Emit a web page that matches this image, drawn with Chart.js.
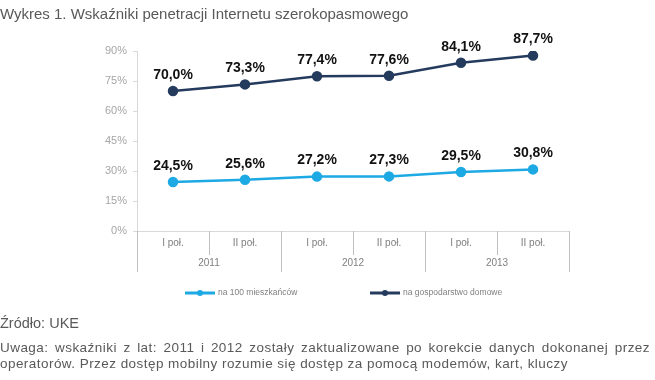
<!DOCTYPE html>
<html>
<head>
<meta charset="utf-8">
<script src="https://cdn.jsdelivr.net/npm/chart.js@4/dist/chart.umd.min.js"></script>
<style>
    body { margin: 0; background: #fff; font-family: "Liberation Sans", Arial, sans-serif; }
    #wrap { position: relative; width: 655px; height: 380px; overflow: hidden; }
    #chart { position: absolute; left: 0; top: 0; }
    .title { position: absolute; left: 0; top: 5px; font-size: 15px; color: #595959; white-space: nowrap; }
    .source { position: absolute; left: 0; top: 315px; font-size: 14.5px; color: #595959; }
    .note { position: absolute; left: 0; top: 340px; width: 650px; font-size: 13.5px; letter-spacing: 0.45px; line-height: 16px; color: #595959; text-align: justify; }
</style>
</head>
<body>
<div id="wrap">
    <canvas id="chart" width="655" height="380"></canvas>
    <div class="title">Wykres 1. Wskaźniki penetracji Internetu szerokopasmowego</div>
    <div class="source">Źródło: UKE</div>
    <div class="note">Uwaga: wskaźniki z lat: 2011 i 2012 zostały zaktualizowane po korekcie danych dokonanej przez operatorów. Przez dostęp mobilny rozumie się dostęp za pomocą modemów, kart, kluczy</div>
</div>
<script>
// Data
const halves = ['I poł.', 'II poł.', 'I poł.', 'II poł.', 'I poł.', 'II poł.'];
const years = ['2011', '2012', '2013'];
const perInhabitants = [24.5, 25.6, 27.2, 27.3, 29.5, 30.8];
const perHousehold = [70.0, 73.3, 77.4, 77.6, 84.1, 87.7];
const yTicks = [0, 15, 30, 45, 60, 75, 90];

const seriesNames = ['na 100 mieszkańców', 'na gospodarstwo domowe'];
const lightBlue = '#1DA9E3';
const darkBlue = '#243B5E';

// Value labels above each point
const valueLabels = {
    id: 'valueLabels',
    afterDatasetsDraw(chart) {
        const ctx = chart.ctx;
        ctx.save();
        ctx.font = 'bold 14px "Liberation Sans", Arial, sans-serif';
        ctx.fillStyle = '#111';
        ctx.textAlign = 'center';
        ctx.textBaseline = 'middle';
        chart.data.datasets.forEach((ds, i) => {
            chart.getDatasetMeta(i).data.forEach((pt, j) => {
                ctx.fillText(ds.data[j].toFixed(1).replace('.', ',') + '%', pt.x, pt.y - 16);
            });
        });
        ctx.restore();
    }
};

// Two-level category axis, zero line and legend
const axisAndLegend = {
    id: 'axisAndLegend',
    afterDraw(chart) {
        const ctx = chart.ctx;
        const area = chart.chartArea;
        const x = chart.scales.x;
        const y0 = chart.scales.y.getPixelForValue(0);
        const step = x.getPixelForValue(1) - x.getPixelForValue(0);
        ctx.save();
        ctx.strokeStyle = '#d9d9d9';
        ctx.lineWidth = 1;
        ctx.beginPath();
        ctx.moveTo(area.left - 4, Math.round(y0) + 0.5);
        ctx.lineTo(area.right, Math.round(y0) + 0.5);
        ctx.stroke();

        ctx.strokeStyle = '#bfbfbf';
        for (let i = 0; i <= halves.length; i++) {
            const px = Math.round(x.getPixelForValue(0) - step / 2 + i * step) + 0.5;
            const long = i % 2 === 0;
            ctx.beginPath();
            ctx.moveTo(px, y0);
            ctx.lineTo(px, y0 + (long ? 41 : 24));
            ctx.stroke();
        }

        ctx.fillStyle = '#808080';
        ctx.font = '10px "Liberation Sans", Arial, sans-serif';
        ctx.textAlign = 'center';
        ctx.textBaseline = 'middle';
        halves.forEach((lab, i) => ctx.fillText(lab, x.getPixelForValue(i), y0 + 12));
        years.forEach((yr, i) => {
            ctx.fillText(yr, (x.getPixelForValue(2 * i) + x.getPixelForValue(2 * i + 1)) / 2, y0 + 32);
        });

        // legend
        const legendY = 293;
        const legendX = [185, 370];
        ctx.font = '8.5px "Liberation Sans", Arial, sans-serif';
        ctx.textAlign = 'left';
        chart.data.datasets.forEach((ds, i) => {
            const lx = legendX[i];
            ctx.strokeStyle = ds.borderColor;
            ctx.lineWidth = 3;
            ctx.beginPath();
            ctx.moveTo(lx, legendY);
            ctx.lineTo(lx + 30, legendY);
            ctx.stroke();
            ctx.fillStyle = ds.borderColor;
            ctx.beginPath();
            ctx.arc(lx + 15, legendY, 3, 0, Math.PI * 2);
            ctx.fill();
            ctx.fillStyle = '#808080';
            ctx.fillText(seriesNames[i], lx + 33, legendY);
        });
        ctx.restore();
    }
};

new Chart(document.getElementById('chart'), {
    type: 'line',
    data: {
        labels: halves,
        datasets: [{
            label: seriesNames[0],
            data: perInhabitants,
            borderColor: lightBlue,
            backgroundColor: lightBlue,
            borderWidth: 2.5,
            pointRadius: 4,
            pointHoverRadius: 4
        }, {
            label: seriesNames[1],
            data: perHousehold,
            borderColor: darkBlue,
            backgroundColor: darkBlue,
            borderWidth: 2.5,
            pointRadius: 4,
            pointHoverRadius: 4
        }]
    },
    options: {
        responsive: false,
        animation: false,
        layout: {
            padding: { left: 0, right: 86, top: 51, bottom: 149 }
        },
        plugins: {
            legend: { display: false },
            tooltip: { enabled: false }
        },
        scales: {
            x: {
                display: false,
                offset: true
            },
            y: {
                min: 0,
                max: 90,
                afterBuildTicks: scale => {
                    scale.ticks = yTicks.map(v => ({ value: v }));
                },
                afterFit: scale => {
                    scale.width = 137;
                },
                grid: {
                    drawOnChartArea: false,
                    tickLength: 4,
                    color: '#d9d9d9'
                },
                border: { color: '#d9d9d9' },
                ticks: {
                    color: '#a6a6a6',
                    padding: 6,
                    font: { family: '"Liberation Sans", Arial, sans-serif', size: 11 },
                    callback: value => value + '%'
                }
            }
        }
    },
    plugins: [valueLabels, axisAndLegend]
});
</script>
</body>
</html>
